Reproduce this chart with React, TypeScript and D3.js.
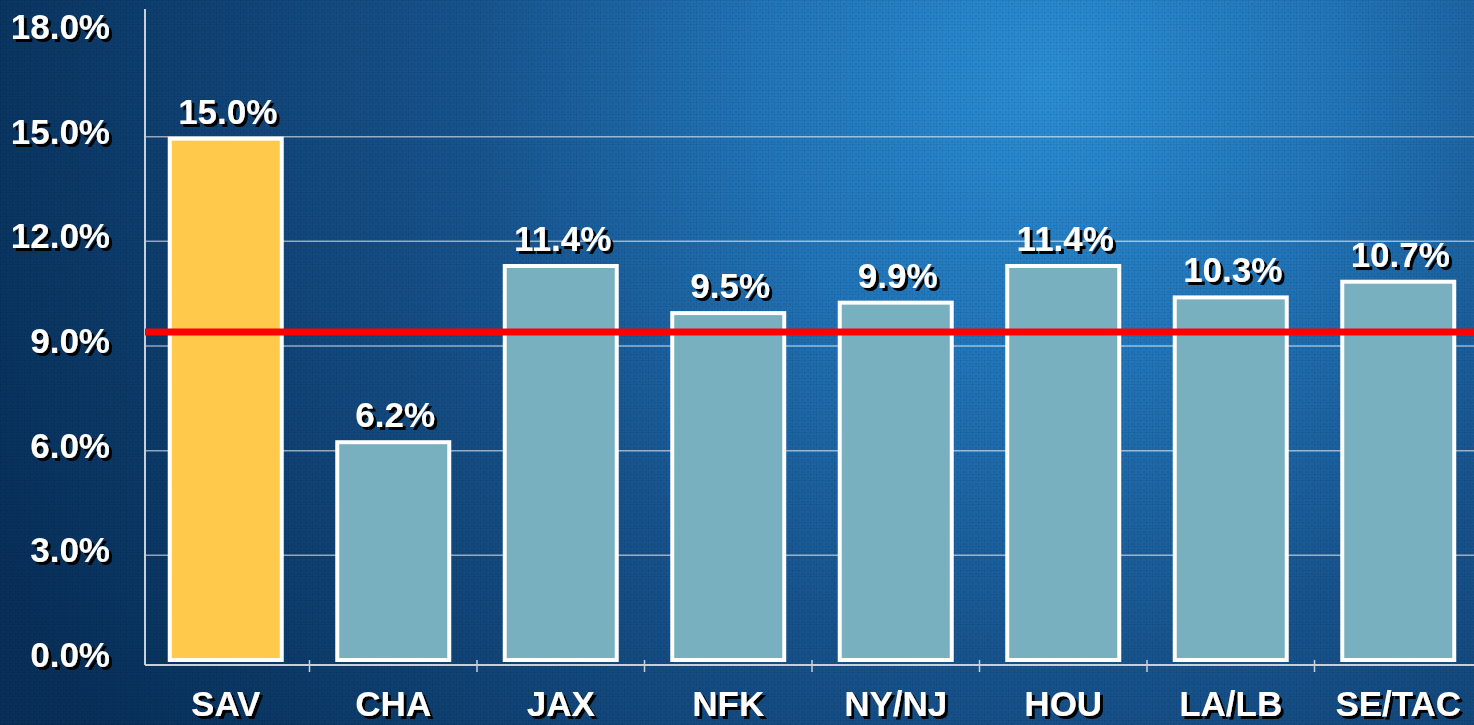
import React from "react";
import * as d3 from "d3";

const categories = ["SAV", "CHA", "JAX", "NFK", "NY/NJ", "HOU", "LA/LB", "SE/TAC"];
const barValues = [15.0, 6.3, 11.35, 10.0, 10.3, 11.35, 10.45, 10.9];
const valueLabels = ["15.0%", "6.2%", "11.4%", "9.5%", "9.9%", "11.4%", "10.3%", "10.7%"];
const highlight = "SAV";
const averageValue = 9.4;
const yTicks = [0, 3, 6, 9, 12, 15, 18];

const W = 1474;
const H = 725;
const FONT = "'Liberation Sans', Arial, sans-serif";

function ShadowText(props: any) {
  const { x, y, children, anchor, size } = props;
  return (
    <text
      x={x}
      y={y}
      fill="#fff"
      fontFamily={FONT}
      fontWeight="bold"
      fontSize={size}
      textAnchor={anchor}
      filter="url(#shadow)"
    >
      {children}
    </text>
  );
}

export default function App() {
  const x = d3.scaleBand<string>().domain(categories).range([142, 1482]).paddingInner(0.33).paddingOuter(0.165);
  const y = d3.scaleLinear().domain([0, 18]).range([660, 32]);
  const step = x.step();
  const bw = 112;
  const bounds = d3.range(1, categories.length).map((i) => 142 + i * step);

  return (
    <svg width={W} height={H} style={{ position: "fixed", left: 0, top: 0, display: "block" }}>
      <defs>
        <radialGradient id="bg" gradientUnits="userSpaceOnUse" cx={1050} cy={80} r={1150}>
          <stop offset="0" stopColor="#2a8fd6" />
          <stop offset="0.25" stopColor="#2176bb" />
          <stop offset="0.5" stopColor="#175590" />
          <stop offset="0.68" stopColor="#11477c" />
          <stop offset="0.85" stopColor="#0b3a69" />
          <stop offset="1" stopColor="#07305b" />
        </radialGradient>
        <pattern id="dots" width="6" height="6" patternUnits="userSpaceOnUse">
          <rect x="0" y="0" width="6" height="1" fill="#000" opacity="0.07" />
          <rect x="0" y="0" width="1" height="6" fill="#000" opacity="0.07" />
          <rect x="3" y="3" width="2" height="2" fill="#000" opacity="0.1" />
        </pattern>
        <filter id="shadow" x="-10%" y="-20%" width="130%" height="150%">
          <feOffset in="SourceAlpha" dx="3" dy="3" result="off" />
          <feFlood floodColor="#000" result="blk" />
          <feComposite in="blk" in2="off" operator="in" result="sh" />
          <feMerge>
            <feMergeNode in="sh" />
            <feMergeNode in="SourceGraphic" />
          </feMerge>
        </filter>
      </defs>
      <rect x={0} y={0} width={W} height={H} fill="url(#bg)" />
      <rect x={0} y={0} width={W} height={H} fill="url(#dots)" />

      {yTicks.filter((t) => t > 0 && t < 18).map((t) => (
        <line key={"g" + t} x1={145} x2={W} y1={y(t)} y2={y(t)} stroke="#ffffff" strokeOpacity={0.55} strokeWidth={1.5} />
      ))}

      <line x1={145} x2={145} y1={9} y2={665} stroke="#c6cfdc" strokeWidth={2} />
      <line x1={145} x2={W} y1={665} y2={665} stroke="#c6cfdc" strokeWidth={2} />
      {bounds.map((b, i) => (
        <line key={"t" + i} x1={b} x2={b} y1={660} y2={672} stroke="#c6cfdc" strokeWidth={1.5} />
      ))}

      {categories.map((c, i) => {
        const cx = (x(c) as number) + x.bandwidth() / 2;
        const top = y(barValues[i]);
        return (
          <rect
            key={c}
            x={cx - bw / 2}
            y={top + 2}
            width={bw}
            height={y(0) - top - 2}
            fill={c === highlight ? "#ffc94b" : "#78b0c0"}
            stroke="#ffffff"
            strokeWidth={4}
          />
        );
      })}

      <line x1={145} x2={W} y1={y(averageValue)} y2={y(averageValue)} stroke="#ff0000" strokeWidth={7} />

      {categories.map((c, i) => {
        const cx = (x(c) as number) + x.bandwidth() / 2;
        return (
          <ShadowText key={"v" + c} x={cx + 2} y={y(barValues[i]) - 13} anchor="middle" size={35}>
            {valueLabels[i]}
          </ShadowText>
        );
      })}

      {yTicks.map((t) => (
        <ShadowText key={"y" + t} x={110} y={y(t) + 7} anchor="end" size={35}>
          {t.toFixed(1) + "%"}
        </ShadowText>
      ))}

      {categories.map((c) => {
        const cx = (x(c) as number) + x.bandwidth() / 2;
        return (
          <ShadowText key={"x" + c} x={cx} y={716} anchor="middle" size={35}>
            {c}
          </ShadowText>
        );
      })}
    </svg>
  );
}
